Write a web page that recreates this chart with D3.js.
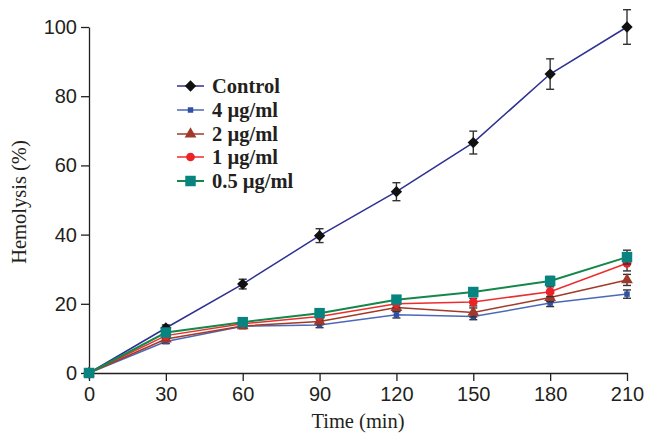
<!DOCTYPE html>
<html lang="en">
<head>
<meta charset="utf-8">
<title>Hemolysis over time</title>
<script src="https://d3js.org/d3.v7.min.js"></script>
<style>
  body { margin: 0; background: #fff; }
  .axis text { font-family: 'Liberation Sans', Arial, sans-serif; font-size: 20px; fill: #231f20; }
  .axis path, .axis line { stroke: #231f20; stroke-width: 1.3; }
  .title { font-family: 'Liberation Serif', 'Times New Roman', serif; font-size: 20.5px; fill: #231f20; }
  .legend text { font-family: 'Liberation Serif', 'Times New Roman', serif; font-size: 20.5px; font-weight: bold; fill: #231f20; }
</style>
</head>
<body>
<div id="chart"></div>
<script>
// time points (min)
var times = [0, 30, 60, 90, 120, 150, 180, 210];
var xTicks = [0, 30, 60, 90, 120, 150, 180, 210];
var yTicks = [0, 20, 40, 60, 80, 100];

// hemolysis (%) per group
var control = [0, 13.0, 25.7, 39.7, 52.4, 66.6, 86.4, 100];
var control_err = [0, 0.9, 1.4, 2.0, 2.6, 3.3, 4.4, 5.0];
var c4 = [0, 9.1, 13.5, 13.9, 16.8, 16.3, 20.2, 22.8];
var c4_err = [0, 0.6, 0.7, 0.8, 0.9, 0.9, 1.0, 1.2];
var c2 = [0, 9.8, 13.6, 14.9, 18.9, 17.5, 21.8, 26.9];
var c2_err = [0, 0.7, 0.7, 0.9, 1.0, 1.3, 1.2, 1.6];
var c1 = [0, 10.8, 14.2, 16.3, 20.0, 20.5, 23.5, 31.7];
var c1_err = [0, 0.7, 0.8, 0.9, 1.0, 1.1, 1.4, 2.2];
var c05 = [0, 11.7, 14.7, 17.3, 21.2, 23.4, 26.6, 33.5];
var c05_err = [0, 0.7, 0.8, 0.9, 1.0, 1.0, 1.3, 2.0];

var series = [
  { name: "Control", values: control, err: control_err, line: "#2e3192", fill: "#111", shape: d3.symbolSquare, size: 64, rot: 45 },
  { name: "4 \u00b5g/ml", values: c4, err: c4_err, line: "#4a69b8", fill: "#3050a8", shape: d3.symbolSquare, size: 30, rot: 0 },
  { name: "2 \u00b5g/ml", values: c2, err: c2_err, line: "#a13a26", fill: "#a0392a", shape: d3.symbolTriangle, size: 60, rot: 0 },
  { name: "1 \u00b5g/ml", values: c1, err: c1_err, line: "#ed2d2d", fill: "#ec2228", shape: d3.symbolCircle, size: 60, rot: 0 },
  { name: "0.5 \u00b5g/ml", values: c05, err: c05_err, line: "#14874a", fill: "#078480", shape: d3.symbolSquare, size: 110, rot: 0 }
];

var W = 646, H = 435;
var margin = { top: 27, right: 19, bottom: 62, left: 89 };

var svg = d3.select("#chart").append("svg")
  .attr("width", W).attr("height", H);

var x = d3.scaleLinear().domain([0, 210]).range([margin.left, W - margin.right]);
var y = d3.scaleLinear().domain([0, 100]).range([H - margin.bottom, margin.top]);

// axes
svg.append("g")
  .attr("class", "axis")
  .attr("transform", "translate(0," + y(0) + ")")
  .call(d3.axisBottom(x).tickValues(xTicks).tickSize(8).tickSizeOuter(0).tickPadding(6));

svg.append("g")
  .attr("class", "axis")
  .attr("transform", "translate(" + x(0) + ",0)")
  .call(d3.axisLeft(y).tickValues(yTicks).tickSize(8).tickSizeOuter(0).tickPadding(4));

// axis titles
svg.append("text")
  .attr("class", "title")
  .attr("x", (x(0) + x(210)) / 2)
  .attr("y", 428)
  .attr("text-anchor", "middle")
  .text("Time (min)");

svg.append("text")
  .attr("class", "title")
  .attr("transform", "translate(26," + (y(50) + 2) + ") rotate(-90)")
  .attr("text-anchor", "middle")
  .text("Hemolysis (%)");

var line = d3.line()
  .x(function(d, i) { return x(times[i]); })
  .y(function(d) { return y(d); });

// draw in legend order, 0.5 ug/ml ends on top
series.forEach(function(s, k) {
  var g = svg.append("g");
  g.append("path")
    .datum(s.values)
    .attr("d", line)
    .attr("fill", "none")
    .attr("stroke", s.line)
    .attr("stroke-width", k == 4 ? 2 : 1.5);

  // error bars
  var eb = g.selectAll(".err")
    .data(s.values.map(function(v, i) { return { t: times[i], v: v, e: s.err[i] }; }).filter(function(d) { return d.e > 0; }))
    .enter().append("g");
  eb.append("line")
    .attr("x1", function(d) { return x(d.t); })
    .attr("x2", function(d) { return x(d.t); })
    .attr("y1", function(d) { return y(d.v - d.e); })
    .attr("y2", function(d) { return y(d.v + d.e); })
    .attr("stroke", "#333").attr("stroke-width", 1.4);
  [-1, 1].forEach(function(sgn) {
    eb.append("line")
      .attr("x1", function(d) { return x(d.t) - 4; })
      .attr("x2", function(d) { return x(d.t) + 4; })
      .attr("y1", function(d) { return y(d.v + sgn * d.e); })
      .attr("y2", function(d) { return y(d.v + sgn * d.e); })
      .attr("stroke", "#333").attr("stroke-width", 1.4);
  });

  g.selectAll(".pt")
    .data(s.values)
    .enter().append("path")
    .attr("transform", function(d, i) { return "translate(" + x(times[i]) + "," + y(d) + ") rotate(" + s.rot + ")"; })
    .attr("d", d3.symbol().type(s.shape).size(s.size))
    .attr("fill", s.fill);
});

// legend
var legend = svg.append("g").attr("class", "legend");
var ly = [86, 110, 134, 157, 181];
series.forEach(function(s, i) {
  var row = legend.append("g").attr("transform", "translate(0," + ly[i] + ")");
  row.append("line")
    .attr("x1", 177).attr("x2", 204)
    .attr("stroke", s.line).attr("stroke-width", i == 4 ? 2 : 1.5);
  row.append("path")
    .attr("transform", "translate(190.5,0) rotate(" + s.rot + ")")
    .attr("d", d3.symbol().type(s.shape).size(s.size))
    .attr("fill", s.fill);
  row.append("text")
    .attr("x", 212).attr("y", 7)
    .text(s.name);
});
</script>
</body>
</html>
